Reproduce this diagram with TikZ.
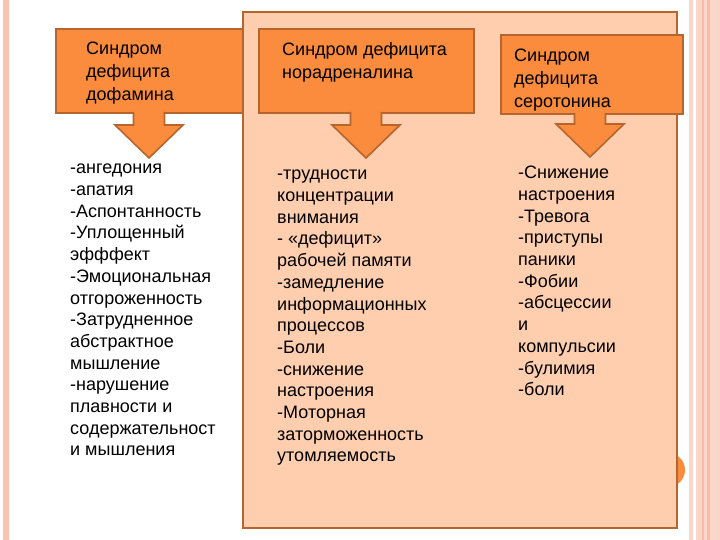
\documentclass[tikz,border=0pt]{standalone}
\usepackage{fontspec}
\setmainfont{Liberation Sans}
\usetikzlibrary{positioning,calc}
\definecolor{ink}{HTML}{000000}
\definecolor{peach}{HTML}{FECEAE}
\definecolor{amber}{HTML}{FB8B3D}
\definecolor{rust}{HTML}{B5652D}
\definecolor{blush}{HTML}{FAC3B2}
\definecolor{blushlt}{HTML}{FCD6C9}
\definecolor{blushdk}{HTML}{F8BBA6}
\tikzset{
  panel/.style={draw=rust, fill=peach, line width=1.6pt, anchor=north west, inner sep=0pt},
  hbox/.style={draw=rust, fill=amber, line width=1.6pt, anchor=north west, inner sep=0pt},
  fat/.style={draw=rust, fill=amber, line width=1.6pt, line join=miter},
  head/.style={font=\fontsize{18}{23}\selectfont, align=left, anchor=north west,
    inner sep=0pt, text=ink, execute at begin node={\rule{0pt}{14pt}}},
  list/.style={head, font=\fontsize{18}{21.7}\selectfont},
}
\newcommand\fatarrow[2]{%
  \path[fat] let \p1=(#1), \p2=(#2) in
    (\x2+15.5pt,\y1+1.6pt) -- (\x2+15.5pt,\y2+33pt) -- (\x2+34pt,\y2+33pt) -- (\x2,\y2)
    -- (\x2-34pt,\y2+33pt) -- (\x2-15.5pt,\y2+33pt) -- (\x2-15.5pt,\y1+1.6pt);}

\begin{document}
\begin{tikzpicture}[x=1pt,y=-1pt]
  \useasboundingbox (0,0) rectangle (720,540);
  \fill[white] (0,0) rectangle (720,540);
  \fill[blush] (3,0) rectangle (8.5,540);
  \fill[blushlt] (689,0) rectangle (692.5,540);
  \fill[blushlt] (696,0) rectangle (720,540);
  \fill[blushdk] (702,0) rectangle (703.5,540);
  \fill[blushdk] (706.5,0) rectangle (709.5,540);
  \fill[amber] (668,470) circle (17pt);
  \node[panel, minimum width=434pt, minimum height=516pt] (pan) at (242,11) {};

  \node[hbox, minimum width=187pt, minimum height=84pt] (b1) at (55,28) {};
  \node[hbox, minimum width=215pt, minimum height=84pt] (b2) at (258,28) {};
  \node[hbox, minimum width=182pt, minimum height=79pt] (b3) at (500,34) {};
  \coordinate (t1) at (149,158);
  \coordinate (t2) at (366,158);
  \coordinate (t3) at (590,157);
  \fatarrow{b1.south}{t1}
  \fatarrow{b2.south}{t2}
  \fatarrow{b3.south}{t3}

  \node[head, below right=14pt and 31pt of b1.north west] (h1) {Синдром\\дефицита\\дофамина};
  \node[head, below right=14pt and 24pt of b2.north west] (h2) {Синдром дефицита\\норадреналина};
  \node[head, below right=14.5pt and 14pt of b3.north west] (h3) {Синдром\\дефицита\\серотонина};

  \node[list] (l1) at (70,164) {-ангедония\\-апатия\\-Аспонтанность\\-Уплощенный\\эфффект\\
    -Эмоциональная\\отгороженность\\-Затрудненное\\абстрактное\\мышление\\-нарушение\\
    плавности и\\содержательност\\и мышления};
  \node[list] (l2) at (277,170) {-трудности\\концентрации\\внимания\\- «дефицит»\\рабочей памяти\\
    -замедление\\информационных\\процессов\\-Боли\\-снижение\\настроения\\-Моторная\\
    заторможенность\\утомляемость};
  \node[list] (l3) at (518,166) {-Снижение\\настроения\\-Тревога\\-приступы\\паники\\-Фобии\\
    -абсцессии\\и\\компульсии\\-булимия\\-боли};
\end{tikzpicture}
\end{document}
